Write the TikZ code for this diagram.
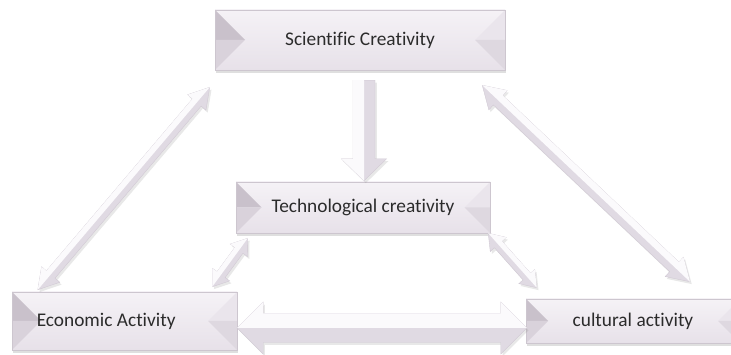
\documentclass[tikz,border=0pt]{standalone}
\usepackage{fontspec}
\setmainfont{Carlito}[Ligatures=NoCommon]
\usepackage{tikz}
\usetikzlibrary{calc, shadows}
\definecolor{boxedge}{HTML}{CDC6CF}
\definecolor{facetop}{HTML}{F5F2F6}
\definecolor{facebot}{HTML}{E7E1E9}
\definecolor{bevdark}{HTML}{C9C1CB}
\definecolor{bevmid}{HTML}{D9D2DB}
\definecolor{bevlight}{HTML}{EAE5EC}
\definecolor{arrowdark}{HTML}{E0DAE3}
\definecolor{arrowlight}{HTML}{FBFAFC}
\definecolor{arrowedge}{HTML}{CFC8D2}
\definecolor{labelgray}{HTML}{2B2B2B}

% double-headed block arrow: ends, shaft half width, head half width, head length
\newcommand{\twoway}[5]{%
  \filldraw[fill=arrowdark, draw=arrowedge, line width=0.3pt,
    drop shadow={shadow xshift=1.5pt, shadow yshift=-2pt, opacity=0.18}] (#1)
    -- ($(#1)!#5!(#2)!#4!90:(#2)$) -- ($(#1)!#5!(#2)!#3!90:(#2)$)
    -- ($(#2)!#5!(#1)!#3!-90:(#1)$) -- ($(#2)!#5!(#1)!#4!-90:(#1)$)
    -- (#2)
    -- ($(#2)!#5!(#1)!#4!90:(#1)$) -- ($(#2)!#5!(#1)!#3!90:(#1)$)
    -- ($(#1)!#5!(#2)!#3!-90:(#2)$) -- ($(#1)!#5!(#2)!#4!-90:(#2)$) -- cycle;
  \fill[arrowlight] (#1)
    -- ($(#1)!#5!(#2)!#4!90:(#2)$) -- ($(#1)!#5!(#2)!#3!90:(#2)$)
    -- ($(#2)!#5!(#1)!#3!-90:(#1)$) -- ($(#2)!#5!(#1)!#4!-90:(#1)$)
    -- (#2) -- cycle;
}

\tikzset{
  bevelbox/.style={draw=boxedge, line width=0.4pt, top color=facetop, bottom color=facebot,
    text=labelgray, font=\fontsize{16.5}{20}\selectfont, inner sep=0pt,
    drop shadow={shadow xshift=1pt, shadow yshift=-2.5pt, opacity=0.25},
    path picture={
      \fill[bevdark] let \p1=(path picture bounding box.north west), \p2=(path picture bounding box.south east), \n1={(\y1-\y2)/2} in
        (\x1,\y1) -- (\x1+\n1,\y1-\n1) -- (\x1,\y1-\n1) -- cycle;
      \fill[bevmid] let \p1=(path picture bounding box.north west), \p2=(path picture bounding box.south east), \n1={(\y1-\y2)/2} in
        (\x1,\y2) -- (\x1+\n1,\y1-\n1) -- (\x1,\y1-\n1) -- cycle;
      \fill[bevlight] let \p1=(path picture bounding box.north west), \p2=(path picture bounding box.south east), \n1={(\y1-\y2)/2} in
        (\x2,\y1) -- (\x2-\n1,\y1-\n1) -- (\x2,\y1-\n1) -- cycle;
      \fill[bevmid!70!bevlight] let \p1=(path picture bounding box.north west), \p2=(path picture bounding box.south east), \n1={(\y1-\y2)/2} in
        (\x2,\y2) -- (\x2-\n1,\y1-\n1) -- (\x2,\y1-\n1) -- cycle;
    }},
}

\begin{document}
\begin{tikzpicture}
  \useasboundingbox (0,0) rectangle (21.93,10.65);
  % Boxes
  \node[bevelbox, minimum width=8.7cm, minimum height=1.8cm] (sci) at (10.8,9.45) {Scientific Creativity};
  \node[bevelbox, minimum width=7.62cm, minimum height=1.53cm] (tech) at (10.89,4.425) {Technological creativity};
  \node[bevelbox, minimum width=6.75cm, minimum height=1.74cm] (econ) at (3.735,1.02) {Economic Activity\hspace{1.1cm}\mbox{}};
  \node[bevelbox, minimum width=6.42cm, minimum height=1.32cm] (cult) at (18.99,1.02) {cultural activity};

  % Arrow ends
  \coordinate (sci-down) at ([xshift=0.12cm,yshift=-0.3cm]sci.south);
  \coordinate (tech-top) at ([xshift=0.03cm,yshift=0.03cm]tech.north);
  \coordinate (econ-up) at ([xshift=0.78cm,yshift=0.06cm]econ.north west);
  \coordinate (sci-left) at ([xshift=-0.15cm,yshift=-0.51cm]sci.south west);
  \coordinate (sci-right) at ([xshift=-0.69cm,yshift=-0.45cm]sci.south east);
  \coordinate (cult-up) at ([xshift=1.71cm,yshift=0.51cm]cult.north);
  \coordinate (econ-corner) at ([xshift=-0.75cm,yshift=0.15cm]econ.north east);
  \coordinate (tech-left) at ([xshift=0.36cm,yshift=-0.15cm]tech.south west);
  \coordinate (tech-right) at ([xshift=-0.06cm]tech.south east);
  \coordinate (cult-corner) at ([xshift=0.33cm,yshift=0.33cm]cult.north west);
  \coordinate (econ-side) at ([yshift=-0.21cm]econ.east);
  \coordinate (cult-side) at ([xshift=0.03cm,yshift=-0.21cm]cult.west);

  % Scientific -> Technological
  \filldraw[fill=arrowdark, draw=arrowedge, line width=0.3pt,
    drop shadow={shadow xshift=1.5pt, shadow yshift=-2pt, opacity=0.18}]
    ($(sci-down)!0.33cm!90:(tech-top)$) -- ($(tech-top)!0.66cm!(sci-down)!0.33cm!-90:(sci-down)$)
    -- ($(tech-top)!0.66cm!(sci-down)!0.68cm!-90:(sci-down)$) -- (tech-top)
    -- ($(tech-top)!0.66cm!(sci-down)!0.68cm!90:(sci-down)$) -- ($(tech-top)!0.66cm!(sci-down)!0.33cm!90:(sci-down)$)
    -- ($(sci-down)!0.33cm!-90:(tech-top)$) -- cycle;
  \fill[arrowlight] (sci-down) -- ($(sci-down)!0.33cm!-90:(tech-top)$)
    -- ($(tech-top)!0.66cm!(sci-down)!0.33cm!90:(sci-down)$)
    -- ($(tech-top)!0.66cm!(sci-down)!0.68cm!90:(sci-down)$) -- (tech-top) -- cycle;

  % Two-way links
  \twoway{econ-up}{sci-left}{0.17cm}{0.36cm}{0.6cm}
  \twoway{sci-right}{cult-up}{0.2cm}{0.4cm}{0.65cm}
  \twoway{econ-corner}{tech-left}{0.15cm}{0.32cm}{0.45cm}
  \twoway{tech-right}{cult-corner}{0.15cm}{0.32cm}{0.45cm}
  \twoway{econ-side}{cult-side}{0.435cm}{0.78cm}{0.78cm}
\end{tikzpicture}
\end{document}
